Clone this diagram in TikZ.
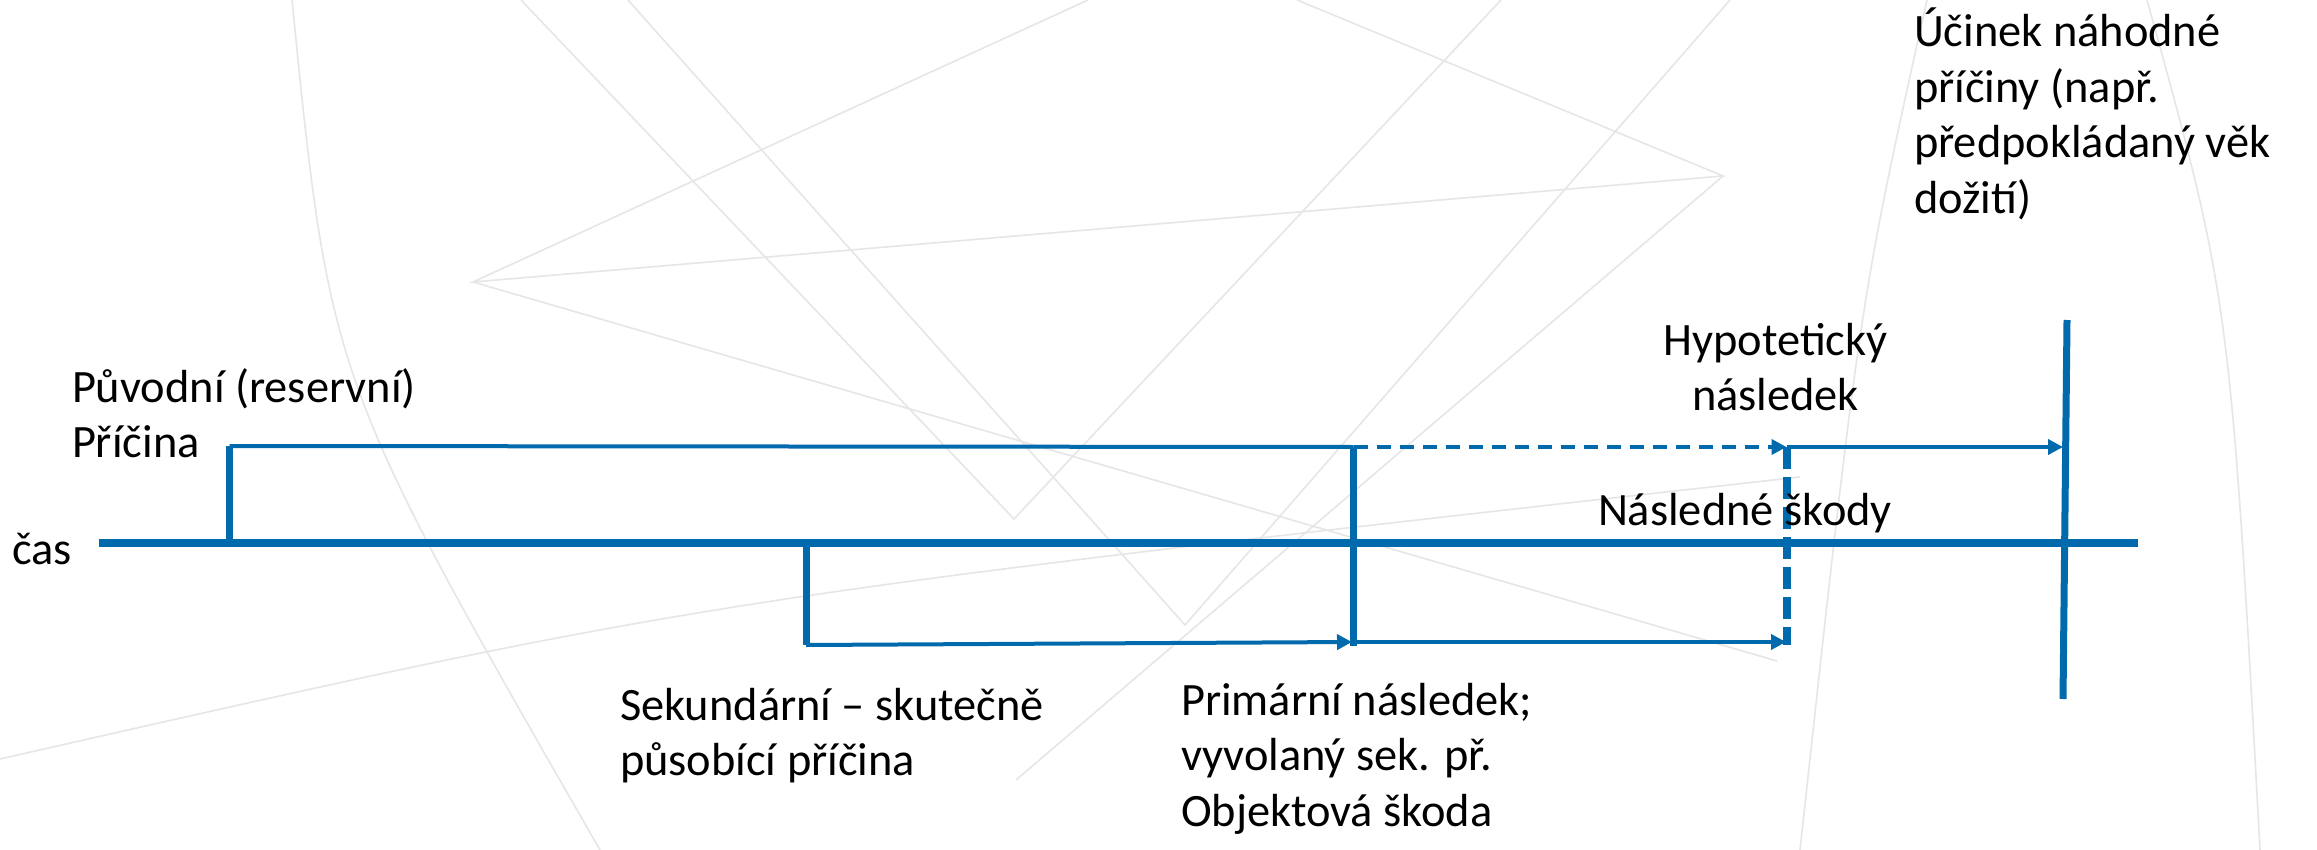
\documentclass[tikz,border=0pt]{standalone}
\usepackage{fontspec}
\setmainfont{Carlito}
\usetikzlibrary{arrows.meta}
\definecolor{tl}{RGB}{0,106,172}
\definecolor{bgl}{RGB}{230,230,230}
\newcommand{\lftlines}[1]{\begin{tabular}[t]{@{}l@{}}#1\end{tabular}}
\newcommand{\ctrlines}[1]{\begin{tabular}[t]{@{}c@{}}#1\end{tabular}}
\begin{document}
\begin{tikzpicture}[x=0.5pt,y=-0.5pt,
  lbl/.style={inner sep=0pt, outer sep=0pt, font=\fontsize{23.2}{27.75}\selectfont, text=black},
  axis/.style={draw=tl, line width=4pt},
  riser/.style={draw=tl, line width=3.5pt},
  flow/.style={draw=tl, line width=2pt},
  tipped/.style={-{Triangle[length=7.5pt,width=7.5pt]}},
  hdash/.style={dash pattern=on 7pt off 4.5pt},
  vdash/.style={dash pattern=on 11pt off 4pt},
  deco/.style={draw=bgl, line width=0.8pt}]
\useasboundingbox (0,0) rectangle (2317,850);
\fill[white] (0,0) rectangle (2317,850);

% faint background template lines
\draw[deco] (292,0) .. controls (330,380) .. (600,850);
\draw[deco] (521,0) -- (1014,519) -- (1501,0);
\draw[deco] (628,0) -- (1185,625) -- (1730,0);
\draw[deco] (1088,0) -- (473,282) -- (1723,176) -- (1297,0);
\draw[deco] (1723,176) -- (1016,780);
\draw[deco] (473,282) -- (1777,661);
\draw[deco] (0,759) .. controls (700,600) .. (1800,477);
\draw[deco] (1927,0) .. controls (1860,300) .. (1800,850);
\draw[deco] (2147,0) .. controls (2230,300) .. (2260,850);

% coordinates
\coordinate (t0) at (99,543);
\coordinate (t1) at (2138,543);
\coordinate (o0) at (229.5,545);
\coordinate (o1) at (229.5,446);
\coordinate (p1) at (1353.5,447);
\coordinate (p3) at (1353.5,646);
\coordinate (p2) at (1352,642);
\coordinate (s0) at (806,541);
\coordinate (s1) at (806,645);
\coordinate (h1) at (1786.5,447);
\coordinate (h3) at (1786.5,645);
\coordinate (h2) at (1786,642);
\coordinate (e0) at (2067,320);
\coordinate (e3) at (2063,699);
\coordinate (e1) at (2063,447);

% time axis
\draw[axis] (t0) -- (t1);

% original (reserve) cause
\draw[riser] (o0) -- (o1);
\draw[flow] (o1) -- (p1);
\draw[flow, hdash, tipped] (p1) -- (h1);
\draw[flow, tipped] (h1) -- (e1);

% primary consequence vertical
\draw[riser] (p1) -- (p3);

% secondary cause
\draw[riser] (s0) -- (s1);
\draw[flow, tipped] (s1) -- (p2);
\draw[flow, tipped] (p2) -- (h2);

% hypothetical consequence (dashed)
\draw[draw=tl, line width=4pt, vdash] (h1) -- (h3);

% effect of random cause
\draw[riser] (e0) -- (e3);

% labels
\node[lbl, anchor=base west] (cas) at (12,564) {čas};
\node[lbl, anchor=base west] (orig) at (72,402) {\lftlines{Původní (reservní)\\Příčina}};
\node[lbl, anchor=base west] (sec) at (620,720) {\lftlines{Sekundární – skutečně\\působící příčina}};
\node[lbl, anchor=base west] (prim) at (1181,715) {\lftlines{Primární následek;\\vyvolaný sek. př.\\Objektová škoda}};
\node[lbl, anchor=base] (hyp) at (1775.5,355) {\ctrlines{Hypotetický\\následek}};
\node[lbl, anchor=base west] (nasl) at (1598,525) {Následné škody};
\node[lbl, anchor=base west] (ucin) at (1914,47) {\lftlines{Účinek náhodné\\příčiny (např.\\předpokládaný věk\\dožití)}};
\end{tikzpicture}
\end{document}
